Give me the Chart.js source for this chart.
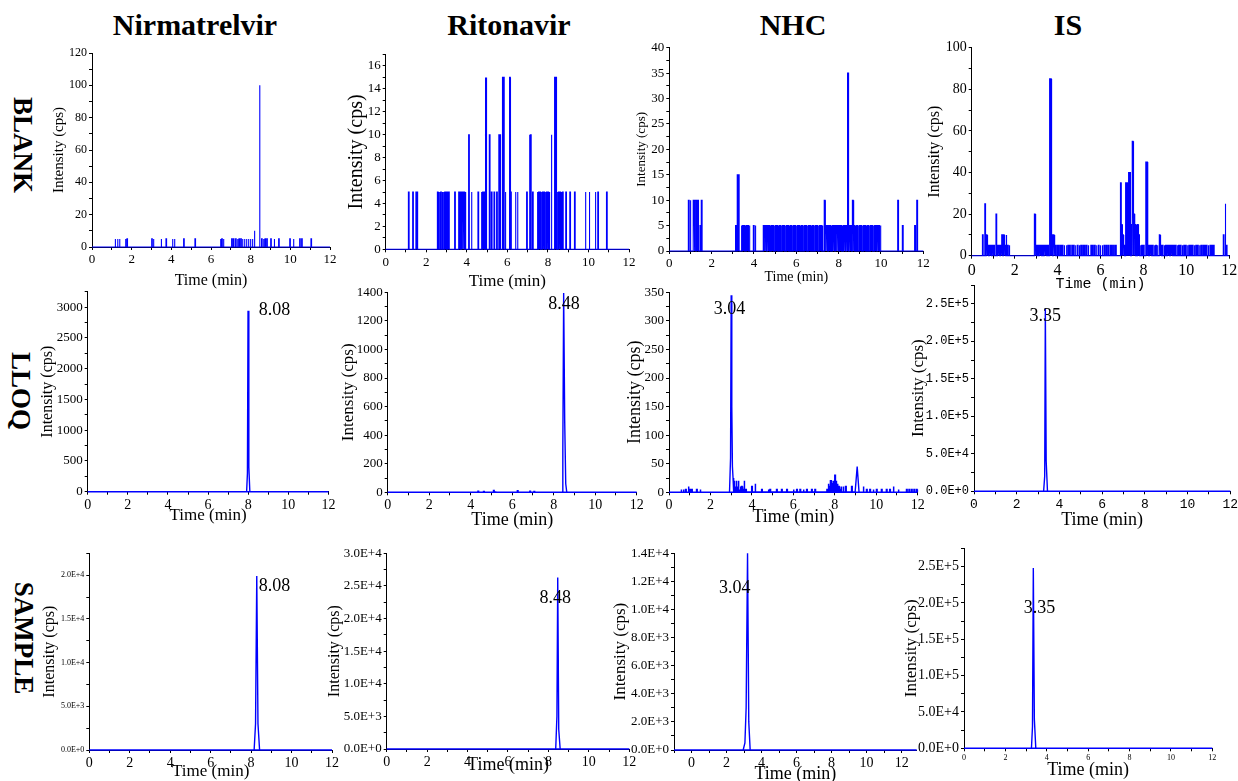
<!DOCTYPE html>
<html lang="en">
<head>
<meta charset="UTF-8">
<title>Chromatograms</title>
<style>
  body { margin:0; background:#fff; width:1238px; height:781px; position:relative; overflow:hidden; font-family:"Liberation Serif", "Times New Roman", serif; }
  canvas { position:absolute; }
  .col { position:absolute; font-weight:bold; font-size:30px; transform:translate(-50%,-50%); white-space:nowrap; }
  .row { position:absolute; font-weight:bold; font-size:27px; transform:translate(-50%,-50%) rotate(90deg); white-space:nowrap; }
</style>
</head>
<body>
<script src="https://cdn.jsdelivr.net/npm/chart.js"></script>
<script>
// ---------- data ----------
const analytes = ['Nirmatrelvir', 'Ritonavir', 'NHC', 'IS'];
const sampleRows = ['BLANK', 'LLOQ', 'SAMPLE'];
const peakRT = ['8.08', '8.48', '3.04', '3.35'];

// BLANK noise spikes: [time (min), intensity (cps)]
const nirBlank = [[1.16,5],[1.28,5],[1.38,5],[1.68,5],[1.76,5],[3.01,5],[3.09,5],[3.48,5],[3.73,5],[4.05,5],
  [4.15,5],[4.62,5],[5.19,5],[6.47,5],[6.54,5],[6.62,5],[7.04,5],[7.13,5],[7.24,5],[7.33,5],[7.41,5],[7.50,5],
  [7.58,5],[7.68,5],[7.78,5],[7.88,5],[7.98,5],[8.08,5],[8.18,10],[8.44,100],[8.55,5],[8.64,5],[8.72,5],[8.81,5],
  [9.01,5],[9.18,5],[9.41,5],[9.97,5],[10.15,5],[10.47,5],[10.57,5],[11.04,5]];

const ritBlank = [[1.12,5],[1.33,5],[1.49,5],[1.54,5],
  [2.55,5],[2.59,5],[2.64,5],[2.71,5],[2.78,5],[2.84,5],[2.91,5],[2.97,5],[3.04,5],[3.10,5],
  [3.40,5],[3.60,5],[3.66,5],[3.73,5],[3.79,5],[3.86,5],[3.92,5],
  [4.09,10],[4.22,5],[4.55,5],[4.71,5],[4.78,5],[4.84,5],[4.90,15],[4.95,15],
  [5.11,10],[5.21,5],[5.34,5],[5.47,5],[5.58,10],[5.63,10],[5.76,15],[5.81,15],[5.89,5],
  [6.11,15],[6.16,5],[6.39,5],[6.49,5],[6.95,5],[7.08,10],[7.14,10],[7.24,5],
  [7.47,5],[7.54,5],[7.60,5],[7.67,5],[7.73,5],[7.80,5],[7.87,5],[7.93,5],[8.00,5],[8.06,5],
  [8.16,10],[8.33,15],[8.39,15],[8.46,5],[8.52,5],[8.59,5],[8.65,5],[8.72,5],
  [8.88,5],[9.08,5],[9.31,5],[9.84,5],[10.03,5],[10.33,5],[10.46,5],[10.89,5]];

const nhcBlank = [[0.90,10],[0.98,10],[1.13,10],[1.21,10],[1.29,10],[1.34,10],[1.45,5],[1.51,10],
  [3.13,5],[3.21,15],[3.26,15],[3.39,5],[3.46,5],[3.52,5],[3.58,5],[3.64,5],[3.70,5],[3.77,5],[3.97,5],[4.05,5],
  [4.44,5],[4.50,5],[4.56,5],[4.63,5],[4.70,5],[4.76,5],[4.82,5],[4.88,5],[4.95,5],[5.02,5],[5.08,5],[5.14,5],
  [5.21,5],[5.28,5],[5.34,5],[5.40,5],[5.47,5],[5.54,5],[5.60,5],[5.66,5],[5.73,5],[5.80,5],[5.86,5],[5.92,5],
  [5.99,5],[6.06,5],[6.12,5],[6.18,5],[6.25,5],[6.32,5],[6.38,5],[6.44,5],[6.51,5],[6.58,5],[6.64,5],[6.70,5],
  [6.77,5],[6.84,5],[6.90,5],[6.96,5],[7.03,5],[7.10,5],[7.16,5],[7.22,5],[7.32,10],[7.38,5],[7.45,5],[7.52,5],
  [7.58,5],[7.64,5],[7.71,5],[7.78,5],[7.84,5],[7.90,5],[7.97,5],[8.04,5],[8.10,5],[8.16,5],[8.23,5],[8.30,5],
  [8.36,5],[8.43,35],[8.50,5],[8.57,5],[8.65,10],[8.72,5],[8.78,5],[8.85,5],[8.92,5],[8.98,5],[9.04,5],[9.11,5],
  [9.18,5],[9.24,5],[9.30,5],[9.37,5],[9.44,5],[9.50,5],[9.56,5],[9.63,5],[9.70,5],[9.76,5],[9.82,5],[9.89,5],[9.96,5],
  [10.79,10],[11.01,5],[11.59,5],[11.69,10]];

const isBlank = [[0.50,10],[0.61,25],[0.68,10],[0.75,5],[0.82,5],[0.89,5],[0.96,5],[1.03,5],[1.13,20],[1.20,5],
  [1.27,5],[1.34,5],[1.41,10],[1.48,10],[1.55,5],[1.60,10],[1.67,5],[1.74,5],
  [2.92,20],[2.99,5],[3.07,5],[3.15,5],[3.22,5],[3.30,5],[3.38,5],[3.46,5],[3.54,5],[3.63,85],[3.67,85],[3.73,10],
  [3.80,10],[3.88,5],[3.97,5],[4.05,5],[4.14,5],[4.22,5],[4.30,5],[4.40,5],[4.48,5],[4.56,5],[4.66,5],[4.74,5],
  [4.82,5],[4.92,5],[5.00,5],[5.08,5],[5.17,5],[5.25,5],[5.34,5],[5.42,5],[5.55,5],[5.63,5],[5.72,5],[5.80,5],
  [5.90,5],[5.98,5],[6.07,5],[6.16,5],[6.25,5],[6.34,5],[6.44,5],[6.52,5],[6.61,5],[6.70,5],
  [6.93,35],[6.97,15],[7.03,10],[7.09,5],[7.17,35],[7.22,35],[7.27,10],[7.31,40],[7.36,40],[7.44,15],[7.48,55],
  [7.55,20],[7.60,15],[7.66,15],[7.72,15],[7.78,10],[7.85,5],[7.92,5],[8.00,5],[8.11,45],[8.15,45],[8.21,5],
  [8.28,5],[8.35,5],[8.42,5],[8.50,5],[8.57,5],[8.64,5],[8.74,10],[8.81,5],[8.88,5],[8.96,5],[9.03,5],[9.11,5],
  [9.18,5],[9.26,5],[9.33,5],[9.41,5],[9.49,5],[9.57,5],[9.64,5],[9.72,5],[9.80,5],[9.88,5],[9.96,5],[10.04,5],
  [10.12,5],[10.20,5],[10.28,5],[10.36,5],[10.44,5],[10.52,5],[10.60,5],[10.68,5],[10.77,5],[10.85,5],[10.93,5],
  [11.01,5],[11.10,5],[11.18,5],[11.26,5],[11.72,10],[11.80,25],[11.86,5]];

// LLOQ
const nirLloqPeak = [[7.92,0],[7.96,300],[7.99,2940],[8.03,400],[8.08,0]];
const ritLloqPeak = [[8.40,0],[8.44,300],[8.48,1395],[8.53,500],[8.58,60],[8.63,0]];
const ritLloqNoise = [[4.35,8],[4.62,6],[5.10,12],[5.18,8],[6.25,10],[6.85,8],[7.05,6]];
const nhcLloqPeak = [[2.92,0],[2.97,60],[3.00,345],[3.03,150],[3.06,45],[3.09,25],[3.12,0],[8.98,0],[9.08,45],[9.17,0]];
const nhcLloqNoise = [[0.58,5],[0.69,5],[0.80,5],[0.93,10],[1.01,5],[1.09,5],[1.33,5],[1.50,5],
  [3.14,20],[3.19,10],[3.24,20],[3.29,10],[3.34,20],[3.39,5],[3.44,10],[3.50,10],[3.56,5],[3.62,20],[3.70,5],
  [3.99,10],[4.15,15],[4.47,5],[4.79,5],[4.87,5],[5.19,5],[5.43,5],[5.68,5],[6.00,5],[6.16,5],[6.32,5],[6.48,5],
  [6.64,5],[6.88,5],[7.04,5],[7.62,5],[7.68,15],[7.74,10],[7.80,20],[7.86,15],[7.92,20],[8.00,30],[8.06,20],
  [8.12,15],[8.18,10],[8.24,5],[8.30,10],[8.40,10],[8.52,10],[8.81,10],[9.37,10],[9.53,5],[9.69,5],[9.85,5],
  [10.01,5],[10.25,5],[10.49,5],[10.65,5],[10.82,10],[11.06,5],[11.46,5],[11.58,5],[11.70,5],[11.82,5],[11.94,5]];
const isLloqPeak = [[3.26,0],[3.31,20000],[3.34,243300],[3.38,40000],[3.44,0]];

// SAMPLE
const nirSamplePeak = [[8.15,0],[8.22,3000],[8.28,19900],[8.34,3000],[8.42,0]];
const ritSamplePeak = [[8.36,0],[8.42,5000],[8.46,26300],[8.51,3000],[8.58,0]];
const nhcSamplePeak = [[2.95,0],[3.05,500],[3.12,3000],[3.20,14000],[3.27,2000],[3.35,0]];
const isSamplePeak = [[3.26,0],[3.31,30000],[3.35,247800],[3.40,40000],[3.47,0]];

// ---------- layout ----------
const SERIF = '"Liberation Serif", "Times New Roman", serif';
const MONO = '"Liberation Mono", monospace';

const colPos = [[195, 25], [509, 25], [793, 25], [1068, 25]];
const rowPos = [[22, 145], [20, 391], [23, 638]];

// plot rect l,t,r,b ; y title [centerX, size] ; x title [centerY, size]
const panels = [
  {l:92, t:53, r:330, b:247, yMax:120, yMajor:20, yMinor:10, yTick:12, xTick:13, yT:[59.5,15], xT:[280,16], spikes:nirBlank, w:0.03},
  {l:385.7, t:54.5, r:629, b:249.3, yMax:17, yMajor:2, yMinor:1, yTick:13, xTick:13, yT:[357.5,20], xT:[281.7,17], spikes:ritBlank, w:0.035},
  {l:669.3, t:47.7, r:923.3, b:251, yMax:40, yMajor:5, yMinor:2.5, yTick:13, xTick:13, yT:[642,13], xT:[277.3,14], spikes:nhcBlank, w:0.04},
  {l:971.7, t:47.7, r:1229.3, b:255.7, yMax:100, yMajor:20, yMinor:10, yTick:14, xTick:16, yT:[935,16], xT:[283.3,15], xTFont:MONO, spikes:isBlank, w:0.035},

  {l:87.7, t:291.7, r:328.5, b:491.7, yMax:3250, yMajor:500, yMinor:250, yTick:13, xTick:14, yT:[48.3,16], xT:[515,17], peak:nirLloqPeak, label:[0, 9.31, 2948]},
  {l:387.7, t:292.3, r:636.7, b:492.3, yMax:1400, yMajor:200, yMinor:100, yTick:13, xTick:14, yT:[349,17], xT:[520,18], peak:ritLloqPeak, spikes:ritLloqNoise, w:0.03, label:[1, 8.50, 1315]},
  {l:669, t:292.3, r:917.7, b:492.3, yMax:350, yMajor:50, yMinor:25, yTick:13, xTick:14, yT:[635.5,18], xT:[516.7,18], peak:nhcLloqPeak, spikes:nhcLloqNoise, w:0.03, label:[2, 2.92, 320]},
  {l:974, t:285, r:1230.3, b:491.3, yMax:275000, yMajor:50000, yMinor:25000, exp:true, yTick:12, xTick:13, tickFont:MONO, yT:[919,17], xT:[520,18], peak:isLloqPeak, label:[3, 3.34, 233400]},

  {l:89.3, t:553.3, r:332, b:750, yMax:22500, yMajor:5000, yMinor:2500, exp:true, yTick:8, xTick:14, yT:[50,16], xT:[771.7,17], peak:nirSamplePeak, label:[0, 9.16, 18680]},
  {l:386.7, t:553.3, r:629.3, b:749, yMax:30000, yMajor:5000, yMinor:2500, exp:true, yTick:13, xTick:14, yT:[335.5,16], xT:[765,18], peak:ritSamplePeak, label:[1, 8.34, 23100]},
  {l:674, t:553.3, r:916.7, b:750, xMin:-1, xMax:12.86, yMax:14000, yMajor:2000, yMinor:1000, exp:true, yTick:13, xTick:14, yT:[621,17], xT:[773.3,18], peak:nhcSamplePeak, label:[2, 2.47, 11510], front:true},
  {l:964, t:548.3, r:1212.3, b:748.3, yMax:275000, yMajor:50000, yMinor:25000, exp:true, yTick:14, xTick:8, yT:[911.5,17], xT:[770,18], peak:isSamplePeak, label:[3, 3.65, 192500]}
];

// ---------- titles ----------
analytes.forEach((name, i) => {
  const d = document.createElement('div');
  d.className = 'col';
  d.textContent = name;
  d.style.left = colPos[i][0] + 'px';
  d.style.top = colPos[i][1] + 'px';
  document.body.appendChild(d);
});
sampleRows.forEach((name, i) => {
  const d = document.createElement('div');
  d.className = 'row';
  d.textContent = name;
  d.style.left = rowPos[i][0] + 'px';
  d.style.top = rowPos[i][1] + 'px';
  document.body.appendChild(d);
});

// ---------- charts ----------
const onStep = (v, step) => Math.abs(v / step - Math.round(v / step)) < 1e-6;
const fmtExp = v => v.toExponential(1).toUpperCase();

// tick marks every `step` between the axis bounds (majors get labels in the callback)
function stepTicks(s, step) {
  const out = [];
  for (let k = Math.ceil(s.min / step - 1e-9); k * step <= s.max + 1e-9; k++) {
    out.push({value: Math.round(k * step * 1000) / 1000});
  }
  s.ticks = out;
}

function spikeLine(spikes, w, xMin, xMax) {
  const pts = [{x: xMin, y: 0}];
  spikes.forEach(([t, y]) => {
    pts.push({x: t, y: 0}, {x: t, y: y}, {x: t + w, y: y}, {x: t + w, y: 0});
  });
  pts.push({x: xMax, y: 0});
  return pts;
}

const peakLabel = {
  id: 'peakLabel',
  afterDatasetsDraw(chart, args, opts) {
    if (!opts.text) return;
    const {ctx, scales} = chart;
    ctx.save();
    ctx.font = '18px ' + SERIF;
    ctx.fillStyle = '#000';
    ctx.textAlign = 'center';
    ctx.textBaseline = 'middle';
    ctx.fillText(opts.text, scales.x.getPixelForValue(opts.x), scales.y.getPixelForValue(opts.y));
    ctx.restore();
  }
};

panels.forEach(p => {
  const xMin = p.xMin !== undefined ? p.xMin : 0;
  const xMax = p.xMax !== undefined ? p.xMax : 12;
  const cLeft = Math.floor(p.yT[0] - 0.6 * p.yT[1]);
  const cTop = Math.floor(p.t - 12);
  const cRight = Math.ceil(p.r + 14);
  const cBottom = Math.ceil(p.xT[0] + 0.6 * p.xT[1]);

  const cv = document.createElement('canvas');
  cv.width = cRight - cLeft;
  cv.height = cBottom - cTop;
  cv.style.left = cLeft + 'px';
  cv.style.top = cTop + 'px';
  if (p.front) cv.style.zIndex = 2;
  document.body.appendChild(cv);

  const datasets = [{
    data: spikeLine(p.spikes || [], p.w || 0.03, xMin, xMax),
    borderColor: '#0000ff', borderWidth: p.peak ? 1.5 : 1.1, pointRadius: 0, tension: 0, clip: 3
  }];
  if (p.peak) {
    datasets.push({
      data: p.peak.map(([x, y]) => ({x, y})),
      borderColor: '#0000ff', borderWidth: 1.4, pointRadius: 0, tension: 0, clip: 3
    });
  }

  const tickFam = p.tickFont || SERIF;
  new Chart(cv, {
    type: 'line',
    data: {datasets},
    options: {
      responsive: false,
      animation: false,
      devicePixelRatio: 1,
      layout: {padding: {left: 0, top: p.t - cTop, right: cRight - p.r, bottom: 0}},
      plugins: {
        legend: {display: false},
        tooltip: {enabled: false},
        peakLabel: p.label ? {text: peakRT[p.label[0]], x: p.label[1], y: p.label[2]} : {}
      },
      scales: {
        x: {
          type: 'linear', min: xMin, max: xMax,
          afterFit(s) { s.height = cBottom - p.b; },
          afterBuildTicks(s) { stepTicks(s, 1); },
          border: {display: true, color: '#000', width: 1},
          grid: {drawOnChartArea: false, color: '#000', tickLength: 3},
          ticks: {
            autoSkip: false, maxRotation: 0, padding: 2, color: '#000',
            font: {family: tickFam, size: p.xTick},
            callback: v => (v >= 0 && onStep(v, 2)) ? String(v) : ''
          },
          title: {display: true, text: 'Time (min)', padding: 0, color: '#000',
            font: {family: p.xTFont || SERIF, size: p.xT[1]}}
        },
        y: {
          type: 'linear', min: 0, max: p.yMax,
          afterFit(s) { s.width = p.l - cLeft; },
          afterBuildTicks(s) { stepTicks(s, p.yMinor); },
          border: {display: true, color: '#000', width: 1},
          grid: {drawOnChartArea: false, color: '#000', tickLength: 3},
          ticks: {
            autoSkip: false, padding: 2, color: '#000',
            font: {family: tickFam, size: p.yTick},
            callback: v => onStep(v, p.yMajor) ? (p.exp ? fmtExp(v) : String(v)) : ''
          },
          title: {display: true, text: 'Intensity (cps)', padding: 0, color: '#000',
            font: {family: SERIF, size: p.yT[1]}}
        }
      }
    },
    plugins: [peakLabel]
  });
});
</script>
</body>
</html>
